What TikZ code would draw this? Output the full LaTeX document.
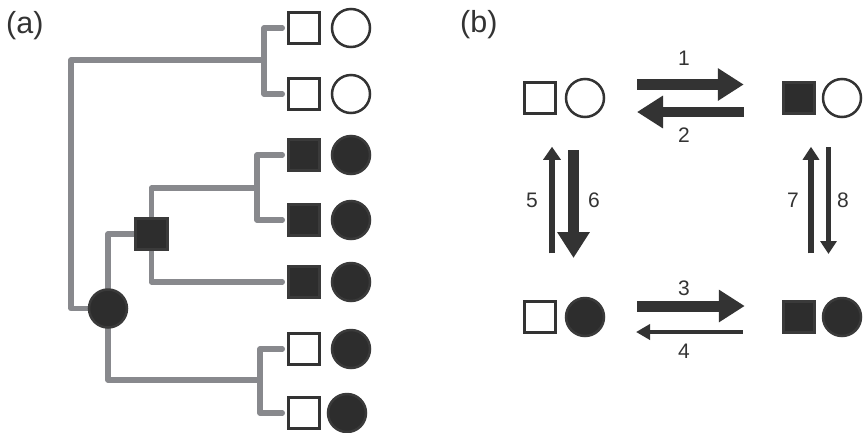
\documentclass[tikz,border=0pt]{standalone}
\usepackage{fontspec}
\setmainfont{Liberation Sans}
\usetikzlibrary{arrows.meta}
\definecolor{ink}{RGB}{51,51,51}
\definecolor{fillk}{RGB}{45,45,45}
\definecolor{edgek}{RGB}{58,58,58}
\definecolor{treeg}{RGB}{136,137,141}
\pgfdeclarelayer{bg}\pgfsetlayers{bg,main}
\begin{document}
\begin{tikzpicture}[x=1pt,y=-1pt,
  osq/.style={rectangle,draw=ink,line width=2.6pt,fill=white,minimum size=31.5pt,inner sep=0pt,outer sep=0pt},
  fsq/.style={osq,fill=fillk,draw=edgek},
  ocirc/.style={circle,draw=ink,line width=2.5pt,fill=white,minimum size=38pt,inner sep=0pt,outer sep=0pt},
  fcirc/.style={ocirc,fill=fillk,draw=edgek},
  tree/.style={draw=treeg,line width=5.5pt,line cap=round,line join=round},
  leafedge/.style={tree,shorten >=6pt},
  lbl/.style={font=\fontsize{21}{21}\selectfont,text=ink,anchor=base,inner sep=0pt},
  panel/.style={font=\fontsize{30.5}{30.5}\selectfont,text=ink,anchor=base west,inner sep=0pt},
  bigarr/.style={draw=ink,line width=11pt,line cap=butt,-{Triangle[length=26pt,width=31pt]}},
  midarr/.style={draw=ink,line width=6pt,line cap=butt,-{Triangle[length=13pt,width=17pt]}},
  thinarr/.style={draw=ink,line width=4.8pt,line cap=butt,-{Triangle[length=14pt,width=15pt]}}
]
\useasboundingbox (0,0) rectangle (865,432);

% ---------- panel (a) ----------
\node[panel] (pa) at (6,33) {(a)};

\node[osq] (s1) at (304,28) {};   \node[ocirc] (c1) at (351,28) {};
\node[osq] (s2) at (304,94) {};   \node[ocirc] (c2) at (351,94) {};
\node[fsq] (s3) at (304,155) {};  \node[fcirc] (c3) at (351,155) {};
\node[fsq] (s4) at (304,220) {};  \node[fcirc] (c4) at (351,220) {};
\node[fsq] (s5) at (304,282) {};  \node[fcirc] (c5) at (351,282) {};
\node[osq] (s6) at (304,349) {};  \node[fcirc] (c6) at (351,349) {};
\node[osq] (s7) at (304,413) {};  \node[fcirc] (c7) at (347,413) {};

\node[fcirc] (root) at (108,308.5) {};
\node[fsq] (ins) at (151.5,234) {};

\coordinate (j1) at (264,60);
\coordinate (k1) at (71,60);
\coordinate (j2) at (257,188);
\coordinate (j3) at (260,380);

\begin{pgfonlayer}{bg}
  \draw[tree] (root.center) -| (k1) -- (j1);
  \draw[leafedge] (j1) |- (s1.west);
  \draw[leafedge] (j1) |- (s2.west);
  \draw[tree] (root.center) |- (ins.center);
  \draw[tree] (ins.center) |- (j2);
  \draw[leafedge] (j2) |- (s3.west);
  \draw[leafedge] (j2) |- (s4.west);
  \draw[leafedge] (ins.center) |- (s5.west);
  \draw[tree] (root.center) |- (j3);
  \draw[leafedge] (j3) |- (s6.west);
  \draw[leafedge] (j3) |- (s7.west);
\end{pgfonlayer}

% ---------- panel (b) ----------
\node[panel] (pb) at (460,32) {(b)};

\node[osq] (tls) at (540,98) {};  \node[ocirc] (tlc) at (585,98) {};
\node[fsq] (trs) at (799,98) {};  \node[ocirc] (trc) at (842,98) {};
\node[osq] (bls) at (540,317) {}; \node[fcirc] (blc) at (585,317) {};
\node[fsq] (brs) at (799,317) {}; \node[fcirc] (brc) at (842,317) {};

\draw[bigarr,shorten <=33pt,shorten >=39.5pt] ([yshift=13.5pt]tlc.east) -- ([yshift=13.5pt]trs.west);
\draw[bigarr,line width=10pt,shorten <=39.5pt,shorten >=33pt] ([yshift=-14pt]trs.west) -- ([yshift=-14pt]tlc.east);
\draw[bigarr,shorten <=33pt,shorten >=38.5pt] ([yshift=11pt]blc.east) -- ([yshift=11pt]brs.west);
\draw[thinarr,shorten <=40.5pt,shorten >=32pt] ([yshift=-15pt]brs.west) -- ([yshift=-15pt]blc.east);
\draw[midarr,shorten <=48pt,shorten >=33pt] ([xshift=12pt]bls.north) -- ([xshift=12pt]tls.south);
\draw[bigarr,shorten <=33pt,shorten >=40pt] ([xshift=-11.5pt]tlc.south) -- ([xshift=-11.5pt]blc.north);
\draw[midarr,line width=5.7pt,-{Triangle[length=13pt,width=16pt]},shorten <=48pt,shorten >=33pt] ([xshift=12pt]brs.north) -- ([xshift=12pt]trs.south);
\draw[midarr,line width=4.5pt,-{Triangle[length=13pt,width=16pt]},shorten <=30pt,shorten >=44pt] ([xshift=-13.5pt]trc.south) -- ([xshift=-13.5pt]brc.north);

\node[lbl] (l1) at (684,65) {1};
\node[lbl] (l2) at (684,142) {2};
\node[lbl] (l3) at (684,295) {3};
\node[lbl] (l4) at (684,358) {4};
\node[lbl] (l5) at (532,207) {5};
\node[lbl] (l6) at (594,207) {6};
\node[lbl] (l7) at (793,207) {7};
\node[lbl] (l8) at (843,207) {8};
\end{tikzpicture}
\end{document}
